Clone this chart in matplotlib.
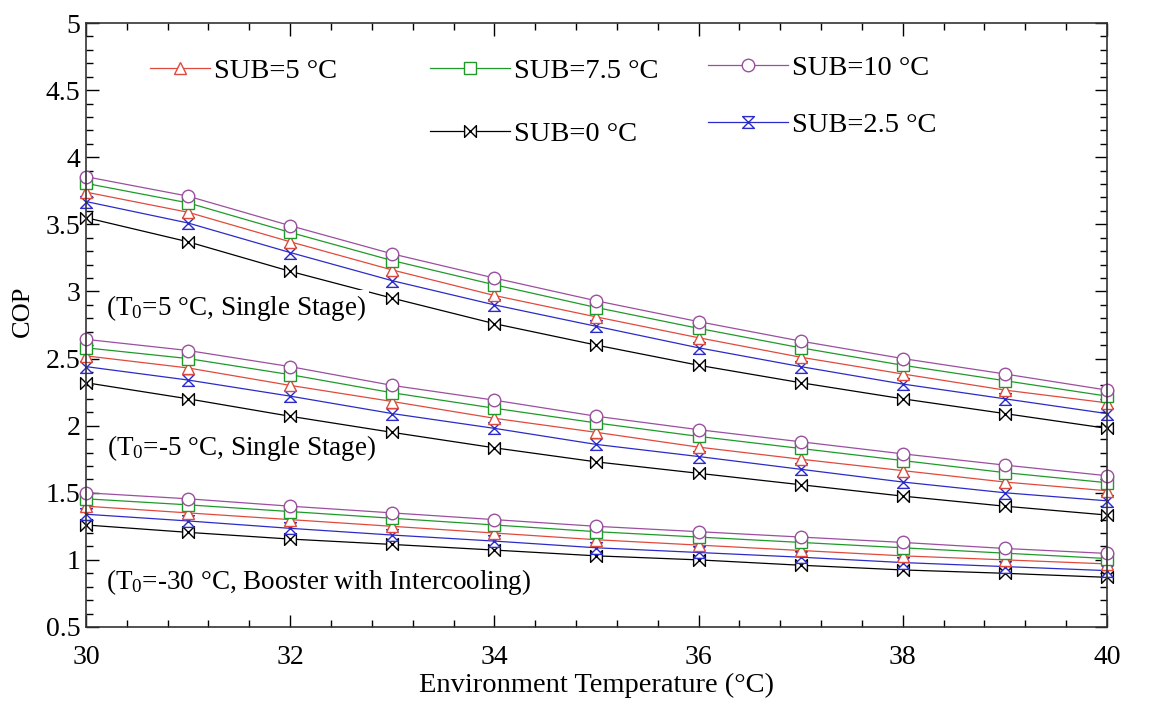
import numpy as np
import matplotlib
matplotlib.use('Agg')
import matplotlib.pyplot as plt
from matplotlib.path import Path
from matplotlib.ticker import MultipleLocator

plt.rcParams['font.family'] = ['Liberation Serif', 'DejaVu Serif']
plt.rcParams['mathtext.fontset'] = 'custom'
plt.rcParams['mathtext.rm'] = 'Liberation Serif'
plt.rcParams['mathtext.it'] = 'Liberation Serif:italic'

T_ENV = [30, 31, 32, 33, 34, 35, 36, 37, 38, 39, 40]

# T0 = 5 °C, single stage
HI_SUB0   = [3.55, 3.37, 3.15, 2.95, 2.76, 2.60, 2.45, 2.32, 2.20, 2.09, 1.98]
HI_SUB25  = [3.67, 3.51, 3.29, 3.08, 2.90, 2.74, 2.58, 2.44, 2.31, 2.20, 2.09]
HI_SUB5   = [3.74, 3.59, 3.37, 3.16, 2.97, 2.81, 2.655, 2.51, 2.385, 2.265, 2.17]
HI_SUB75  = [3.805, 3.66, 3.44, 3.23, 3.05, 2.88, 2.725, 2.58, 2.45, 2.335, 2.22]
HI_SUB10  = [3.855, 3.71, 3.49, 3.28, 3.10, 2.93, 2.775, 2.63, 2.50, 2.385, 2.265]

# T0 = -5 °C, single stage
MID_SUB0  = [2.32, 2.20, 2.07, 1.95, 1.835, 1.73, 1.645, 1.56, 1.475, 1.40, 1.334]
MID_SUB25 = [2.44, 2.34, 2.22, 2.09, 1.98, 1.86, 1.77, 1.675, 1.58, 1.50, 1.44]
MID_SUB5  = [2.52, 2.43, 2.30, 2.18, 2.055, 1.95, 1.84, 1.75, 1.665, 1.58, 1.515]
MID_SUB75 = [2.58, 2.50, 2.38, 2.245, 2.13, 2.02, 1.92, 1.83, 1.74, 1.65, 1.575]
MID_SUB10 = [2.643, 2.56, 2.44, 2.30, 2.19, 2.07, 1.97, 1.88, 1.79, 1.706, 1.627]

# T0 = -30 °C, booster with intercooling
LO_SUB0   = [1.26, 1.205, 1.155, 1.115, 1.073, 1.03, 1.00, 0.96, 0.925, 0.90, 0.87]
LO_SUB25  = [1.34, 1.29, 1.235, 1.185, 1.14, 1.09, 1.055, 1.02, 0.98, 0.95, 0.92]
LO_SUB5   = [1.40, 1.35, 1.30, 1.25, 1.20, 1.15, 1.11, 1.07, 1.03, 1.00, 0.97]
LO_SUB75  = [1.455, 1.41, 1.36, 1.31, 1.26, 1.21, 1.17, 1.13, 1.09, 1.05, 1.01]
LO_SUB10  = [1.50, 1.455, 1.40, 1.35, 1.30, 1.25, 1.21, 1.17, 1.13, 1.085, 1.048]

# custom open markers: bowtie and hourglass
bowtie = Path([(-1, -1), (-1, 1), (1, -1), (1, 1), (-1, -1)],
              [Path.MOVETO, Path.LINETO, Path.LINETO, Path.LINETO, Path.CLOSEPOLY])
hourglass = Path([(-1, 1), (1, 1), (-1, -1), (1, -1), (-1, 1)],
                 [Path.MOVETO, Path.LINETO, Path.LINETO, Path.LINETO, Path.CLOSEPOLY])

STYLE = {
    'SUB=0 °C':   dict(color='black',   marker=bowtie,    ms=8.5),
    'SUB=2.5 °C': dict(color='#2b2bc8', marker=hourglass, ms=8.5),
    'SUB=5 °C':   dict(color='#e04a3c', marker='^',       ms=9),
    'SUB=7.5 °C': dict(color='#1f9a2a', marker='s',       ms=8.5),
    'SUB=10 °C':  dict(color='#9b4f9f', marker='o',       ms=9),
}
GROUPS = [
    {'SUB=0 °C': HI_SUB0, 'SUB=2.5 °C': HI_SUB25, 'SUB=5 °C': HI_SUB5,
     'SUB=7.5 °C': HI_SUB75, 'SUB=10 °C': HI_SUB10},
    {'SUB=0 °C': MID_SUB0, 'SUB=2.5 °C': MID_SUB25, 'SUB=5 °C': MID_SUB5,
     'SUB=7.5 °C': MID_SUB75, 'SUB=10 °C': MID_SUB10},
    {'SUB=0 °C': LO_SUB0, 'SUB=2.5 °C': LO_SUB25, 'SUB=5 °C': LO_SUB5,
     'SUB=7.5 °C': LO_SUB75, 'SUB=10 °C': LO_SUB10},
]

fig = plt.figure(figsize=(11.57, 7.04), dpi=100)
ax = fig.add_axes([0.0743, 0.1094, 0.8825, 0.8579])

handles = {}
for grp in GROUPS:
    for name, vals in grp.items():
        st = STYLE[name]
        ln, = ax.plot(T_ENV, vals, color=st['color'], lw=0.9,
                      marker=st['marker'], ms=st['ms'], mfc='white',
                      mec=st['color'], mew=1.0, label=name, clip_on=False)
        handles[name] = ln

# annotations (white box hides the line behind, as in the original)
ax.text(30.2, 2.88, r'(T$_0$=5 °C, Single Stage)', fontsize=19.5,
        va='center', ha='left', zorder=5,
        bbox=dict(facecolor='white', edgecolor='none', pad=1.5))
ax.text(30.21, 1.83, r'(T$_0$=-5 °C, Single Stage)', fontsize=19.5,
        va='center', ha='left', zorder=5,
        bbox=dict(facecolor='white', edgecolor='none', pad=1.5))
ax.text(30.2, 0.835, r'(T$_0$=-30 °C, Booster with Intercooling)', fontsize=19.5,
        va='center', ha='left', zorder=5)

# legend in three separate columns, as placed in the original
leg_kw = dict(frameon=False, fontsize=20.5, handletextpad=0.15,
              borderpad=0, borderaxespad=0, loc='upper left')
col1 = ax.legend([handles['SUB=5 °C']], ['SUB=5 °C'],
                 bbox_to_anchor=(0.063, 0.942), handlelength=2.1,
                 labelspacing=1.3, **leg_kw)
ax.add_artist(col1)
col2 = ax.legend([handles['SUB=7.5 °C'], handles['SUB=0 °C']],
                 ['SUB=7.5 °C', 'SUB=0 °C'],
                 bbox_to_anchor=(0.337, 0.942), handlelength=2.8,
                 labelspacing=1.3, **leg_kw)
ax.add_artist(col2)
ax.legend([handles['SUB=10 °C'], handles['SUB=2.5 °C']],
          ['SUB=10 °C', 'SUB=2.5 °C'],
          bbox_to_anchor=(0.609, 0.947), handlelength=2.8,
          labelspacing=1.09, **leg_kw)

ax.set_xlim(30, 40)
ax.set_ylim(0.5, 5)
ax.xaxis.set_major_locator(MultipleLocator(2))
ax.xaxis.set_minor_locator(MultipleLocator(0.4))
ax.yaxis.set_major_locator(MultipleLocator(0.5))
ax.yaxis.set_minor_locator(MultipleLocator(0.1))
ax.tick_params(which='both', direction='in', top=True, right=True,
               labelsize=20, width=1.0)
ax.tick_params(which='major', length=9)
ax.tick_params(which='minor', length=5)
ax.tick_params(axis='x', which='major', pad=13)
ax.tick_params(axis='y', which='major', pad=4)
ax.set_yticks(np.arange(0.5, 5.01, 0.5))
ax.set_yticklabels(['0.5', '1', '1.5', '2', '2.5', '3', '3.5', '4', '4.5', '5'])
for s in ax.spines.values():
    s.set_linewidth(1.2)
    s.set_color('#333333')

ax.set_xlabel('Environment Temperature (°C)', fontsize=20.5, labelpad=2)
ax.set_ylabel('COP', fontsize=19)
ax.yaxis.set_label_coords(-0.051, 0.523)

fig.savefig('out.png', dpi=100)
